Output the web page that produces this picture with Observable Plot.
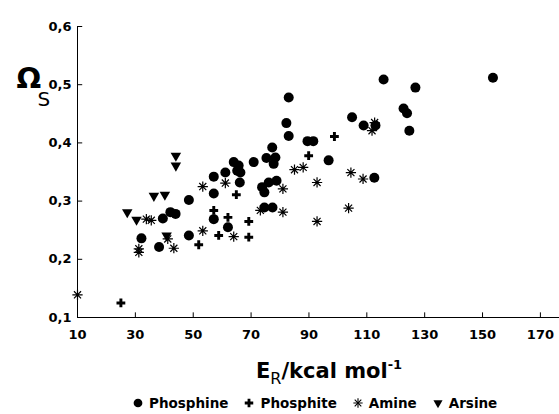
<!DOCTYPE html>
<html><head><meta charset="utf-8">
<script src="https://cdn.jsdelivr.net/npm/d3@7"></script>
<script src="https://cdn.jsdelivr.net/npm/@observablehq/plot@0.6"></script>
<style>
html,body{margin:0;padding:0;background:#fff;}
body{width:559px;height:414px;overflow:hidden;position:relative;font-family:"DejaVu Sans","Liberation Sans",sans-serif;color:#000;}
#chart{position:absolute;left:0;top:0;}
#xtitle{position:absolute;left:0;top:359px;width:559px;text-align:center;padding-left:99px;box-sizing:border-box;font-weight:bold;font-size:21px;line-height:24px;}
#xtitle sub{font-size:16px;font-weight:normal;vertical-align:-6px;line-height:0;}
#xtitle sup{font-size:13px;vertical-align:9px;line-height:0;}
#legend{position:absolute;left:132px;top:395px;display:flex;align-items:center;font-weight:bold;font-size:13.5px;line-height:16px;}
#legend .item{display:flex;align-items:center;margin-right:15px;}
#legend svg{margin-right:5px;}
</style></head><body>
<div id="chart"></div>
<div id="xtitle">E<sub>R</sub>/kcal mol<sup>-1</sup></div>
<div id="legend"></div>
<script>
// Data: [E_R (kcal/mol), Omega_S]
const phosphine = [
  [32.1,0.236],[38.2,0.221],[39.5,0.270],[42.1,0.281],[43.9,0.278],[48.5,0.302],[48.5,0.241],
  [57.1,0.342],[57.1,0.313],[57.1,0.269],[61.1,0.349],[62.0,0.255],[64.0,0.367],[65.7,0.361],
  [66.3,0.349],[65.2,0.352],[66.1,0.332],[70.9,0.367],[75.3,0.374],[77.3,0.392],[78.4,0.375],
  [77.8,0.364],[73.8,0.324],[76.1,0.332],[78.8,0.335],[74.6,0.315],[74.6,0.289],[77.4,0.289],
  [83.0,0.478],[82.2,0.434],[83.0,0.412],[89.5,0.403],[91.5,0.403],[96.8,0.370],[104.9,0.444],
  [108.9,0.430],[113.0,0.430],[112.6,0.340],[122.7,0.459],[123.9,0.451],[124.7,0.421],
  [115.8,0.509],[126.8,0.495],[153.6,0.512]
];
const phosphite = [
  [25.0,0.125],[51.9,0.225],[57.1,0.284],[58.8,0.241],[62.0,0.272],[64.9,0.311],[69.2,0.265],
  [69.2,0.238],[89.9,0.378],[98.8,0.411]
];
const amine = [
  [10.0,0.139],[31.2,0.218],[31.2,0.212],[33.8,0.269],[35.5,0.267],[41.2,0.235],[43.3,0.219],
  [53.3,0.325],[53.3,0.249],[61.1,0.331],[64.0,0.239],[73.2,0.284],[81.0,0.321],[81.0,0.281],
  [85.0,0.354],[88.0,0.358],[92.8,0.332],[92.8,0.265],[103.7,0.288],[104.5,0.349],[108.7,0.338],
  [112.7,0.435],[111.8,0.421]
];
const arsine = [
  [27.2,0.281],[30.4,0.268],[36.4,0.309],[40.2,0.311],[40.8,0.241],[44.0,0.378],[44.0,0.361]
];
const seriesNames = ["Phosphine","Phosphite","Amine","Arsine"];
const xTicks = [10,30,50,70,90,110,130,150,170];
const yTicks = [0.1,0.2,0.3,0.4,0.5,0.6];
const xDomain = [10,176.6];
const yDomain = [0.1,0.6];

const X = d => d[0], Y = d => d[1];
const fmtY = d => d.toFixed(1).replace(".", ",");

const chart = Plot.plot({
  width: 559, height: 345,
  marginLeft: 77, marginRight: 0, marginTop: 26, marginBottom: 28,
  x: {domain: xDomain},
  y: {domain: yDomain},
  style: {fontFamily: "DejaVu Sans", fontSize: "13px", fontWeight: "bold", background: "white", color: "black", overflow: "visible"},
  marks: [
    Plot.axisX({ticks: xTicks, tickSize: 0, tickPadding: 12, tickFormat: d => String(d), label: null}),
    Plot.axisY({ticks: yTicks, tickSize: 0, tickPadding: 6, tickFormat: fmtY, label: null}),
    Plot.ruleY([0.1], {x1: xDomain[0], x2: xDomain[1], stroke: "black", strokeWidth: 1}),
    Plot.ruleX([10], {y1: 0.1, y2: 0.6, stroke: "black", strokeWidth: 1}),
    Plot.ruleX(xTicks, {x: d => d, y1: 0.1, y2: 0.108, stroke: "black"}),
    Plot.ruleY(yTicks, {y: d => d, x1: 10, x2: 11.8, stroke: "black"}),
    Plot.dot(phosphine, {x: X, y: Y, symbol: "circle", r: 5, fill: "black", stroke: "none"}),
    Plot.dot(phosphite, {x: X, y: Y, symbol: "cross", r: 3.7, fill: "black", stroke: "none"}),
    Plot.dot(amine, {x: X, y: Y, symbol: "plus", r: 3.4, stroke: "black", strokeWidth: 1.2, fill: "none"}),
    Plot.dot(amine, {x: X, y: Y, symbol: "times", r: 3.3, stroke: "black", strokeWidth: 1.2, fill: "none"}),
    Plot.dot(amine, {x: X, y: Y, r: 1.6, fill: "black", stroke: "none"}),
    Plot.dot(arsine, {x: X, y: Y, symbol: "triangle", r: 3.9, fill: "black", stroke: "none", rotate: 180}),
    Plot.text(["Ω"], {frameAnchor: "top-left", text: d => d, dx: -61, dy: 41, fontSize: 29, fontWeight: "bold"}),
    Plot.text(["S"], {frameAnchor: "top-left", text: d => d, dx: -40, dy: 65, fontSize: 20, fontWeight: "normal"})
  ]
});
document.getElementById("chart").appendChild(chart);

// Legend
const legendSymbols = [
  {type: d3.symbolCircle, size: 60, rot: 0},
  {type: d3.symbolCross, size: 40, rot: 0},
  {type: "amine", size: 30, rot: 0},
  {type: d3.symbolTriangle, size: 36, rot: 180}
];
const legend = d3.select("#legend");
seriesNames.forEach((name, i) => {
  const item = legend.append("div").attr("class", "item");
  const s = item.append("svg").attr("width", 12).attr("height", 12);
  const L = legendSymbols[i];
  const g = s.append("g").attr("transform", `translate(6,6) rotate(${L.rot})`);
  if (L.type === "amine") {
    g.append("path").attr("d", d3.symbol(d3.symbolPlus, 30)()).attr("stroke", "black").attr("stroke-width", 1.1).attr("fill", "none");
    g.append("path").attr("d", d3.symbol(d3.symbolTimes, 30)()).attr("stroke", "black").attr("stroke-width", 1.1).attr("fill", "none");
  } else {
    g.append("path").attr("d", d3.symbol(L.type, L.size)()).attr("fill", "black");
  }
  item.append("span").text(name);
});
</script>
</body></html>
